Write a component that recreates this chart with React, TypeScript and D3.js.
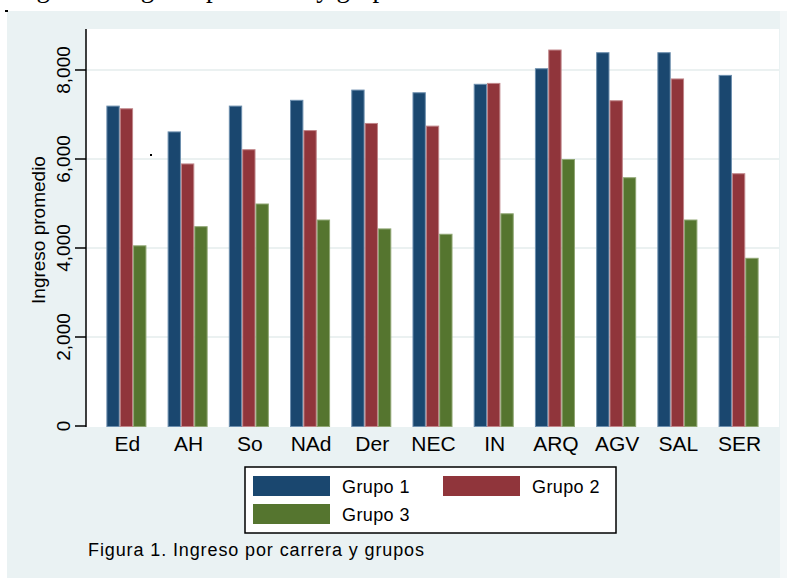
import React from 'react';
import * as d3 from 'd3';

const categories = ['Ed', 'AH', 'So', 'NAd', 'Der', 'NEC', 'IN', 'ARQ', 'AGV', 'SAL', 'SER'];
const grupo1 = [7200, 6620, 7200, 7330, 7560, 7500, 7690, 8040, 8400, 8400, 7890];
const grupo2 = [7140, 5900, 6220, 6650, 6810, 6750, 7710, 8460, 7320, 7810, 5680];
const grupo3 = [4060, 4490, 5000, 4640, 4440, 4320, 4780, 6000, 5590, 4640, 3780];
const seriesNames = ['Grupo 1', 'Grupo 2', 'Grupo 3'];
const yTicks = [0, 2000, 4000, 6000, 8000];

const colors = ['#1a476f', '#90353b', '#55752f'];
const edges = ['#6d8fae', '#c08589', '#8fa673'];
const font = '"Liberation Sans", Arial, Helvetica, sans-serif';

export default function App() {
  const width = 787;
  const height = 578;
  const plot = { left: 86, right: 779, top: 29, bottom: 427 };

  const x = d3.scaleBand<string>()
    .domain(categories)
    .range([plot.left, plot.right])
    .paddingInner(0.346)
    .paddingOuter(0.333);

  const xInner = d3.scaleBand<string>()
    .domain(seriesNames)
    .range([0, x.bandwidth()]);

  const y = d3.scaleLinear().domain([0, 8000]).range([426, 70]);

  const series = [grupo1, grupo2, grupo3];

  return (
    <svg
      width={width}
      height={height}
      style={{ position: 'absolute', left: 0, top: 0, display: 'block' }}
    >
      <rect x={0} y={0} width={width} height={height} fill="#ffffff" />
      {/* tail of the previous figure's caption, cut by the crop */}
      <text x={14} y={-3} fontFamily='"Liberation Serif", "Times New Roman", serif' fontSize={27} fill="#000">
        Figura 2. Ingreso promedio y grupos
      </text>
      <rect x={780} y={11} width={7} height={567} fill="#f3f7f8" />
      <rect x={7} y={11} width={773} height={567} fill="#eaf2f3" />
      <rect x={5} y={10} width={3} height={2} fill="#000" />

      <rect x={plot.left} y={plot.top} width={plot.right - plot.left} height={plot.bottom - plot.top} fill="#ffffff" />

      {yTicks.filter((t) => t > 0).map((t) => (
        <line key={`g${t}`} x1={plot.left} x2={plot.right} y1={y(t)} y2={y(t)} stroke="#e4eced" strokeWidth={1.5} />
      ))}

      {categories.map((c, i) => (
        <g key={c}>
          {series.map((s, j) => {
            const bx = (x(c) ?? 0) + (xInner(seriesNames[j]) ?? 0);
            return (
              <rect
                key={seriesNames[j]}
                x={bx + 0.5}
                y={y(s[i]) + 0.5}
                width={xInner.bandwidth() - 1}
                height={y(0) - y(s[i])}
                fill={colors[j]}
                stroke={edges[j]}
                strokeWidth={1}
              />
            );
          })}
          <text
            x={(x(c) ?? 0) + x.bandwidth() / 2 + 1}
            y={451}
            textAnchor="middle"
            fontFamily={font}
            fontSize={21}
            fill="#000"
          >
            {c}
          </text>
        </g>
      ))}

      <rect x={150} y={154} width={2} height={2} fill="#000" />

      {/* y axis */}
      <line x1={plot.left} x2={plot.left} y1={plot.top} y2={plot.bottom} stroke="#000" strokeWidth={1.5} />
      {yTicks.map((t) => (
        <g key={t}>
          <line x1={75} x2={plot.left} y1={y(t)} y2={y(t)} stroke="#000" strokeWidth={1.5} />
          <text
            transform={`translate(70,${y(t)}) rotate(-90)`}
            textAnchor="middle"
            fontFamily={font}
            fontSize={19}
            fill="#000"
          >
            {d3.format(',')(t)}
          </text>
        </g>
      ))}
      <text
        transform="translate(45,230) rotate(-90)"
        textAnchor="middle"
        fontFamily={font}
        fontSize={19}
        fill="#000"
      >
        Ingreso promedio
      </text>

      {/* legend */}
      <rect x={245} y={467} width={371} height={66} fill="#ffffff" stroke="#000" strokeWidth={1.5} />
      {seriesNames.map((n, j) => {
        const col = j % 2;
        const row = Math.floor(j / 2);
        const sx = 253 + col * 190;
        const sy = 476 + row * 28;
        return (
          <g key={n}>
            <rect x={sx} y={sy} width={77} height={20} fill={colors[j]} />
            <text
              x={sx + 89}
              y={sy + 16.5}
              fontFamily={font}
              fontSize={18}
              letterSpacing={0.4}
              fill="#000"
            >
              {n}
            </text>
          </g>
        );
      })}

      <text
        x={88}
        y={556}
        fontFamily={font}
        fontSize={18}
        textLength={336}
        lengthAdjust="spacing"
        fill="#000"
      >
        Figura 1. Ingreso por carrera y grupos
      </text>
    </svg>
  );
}
